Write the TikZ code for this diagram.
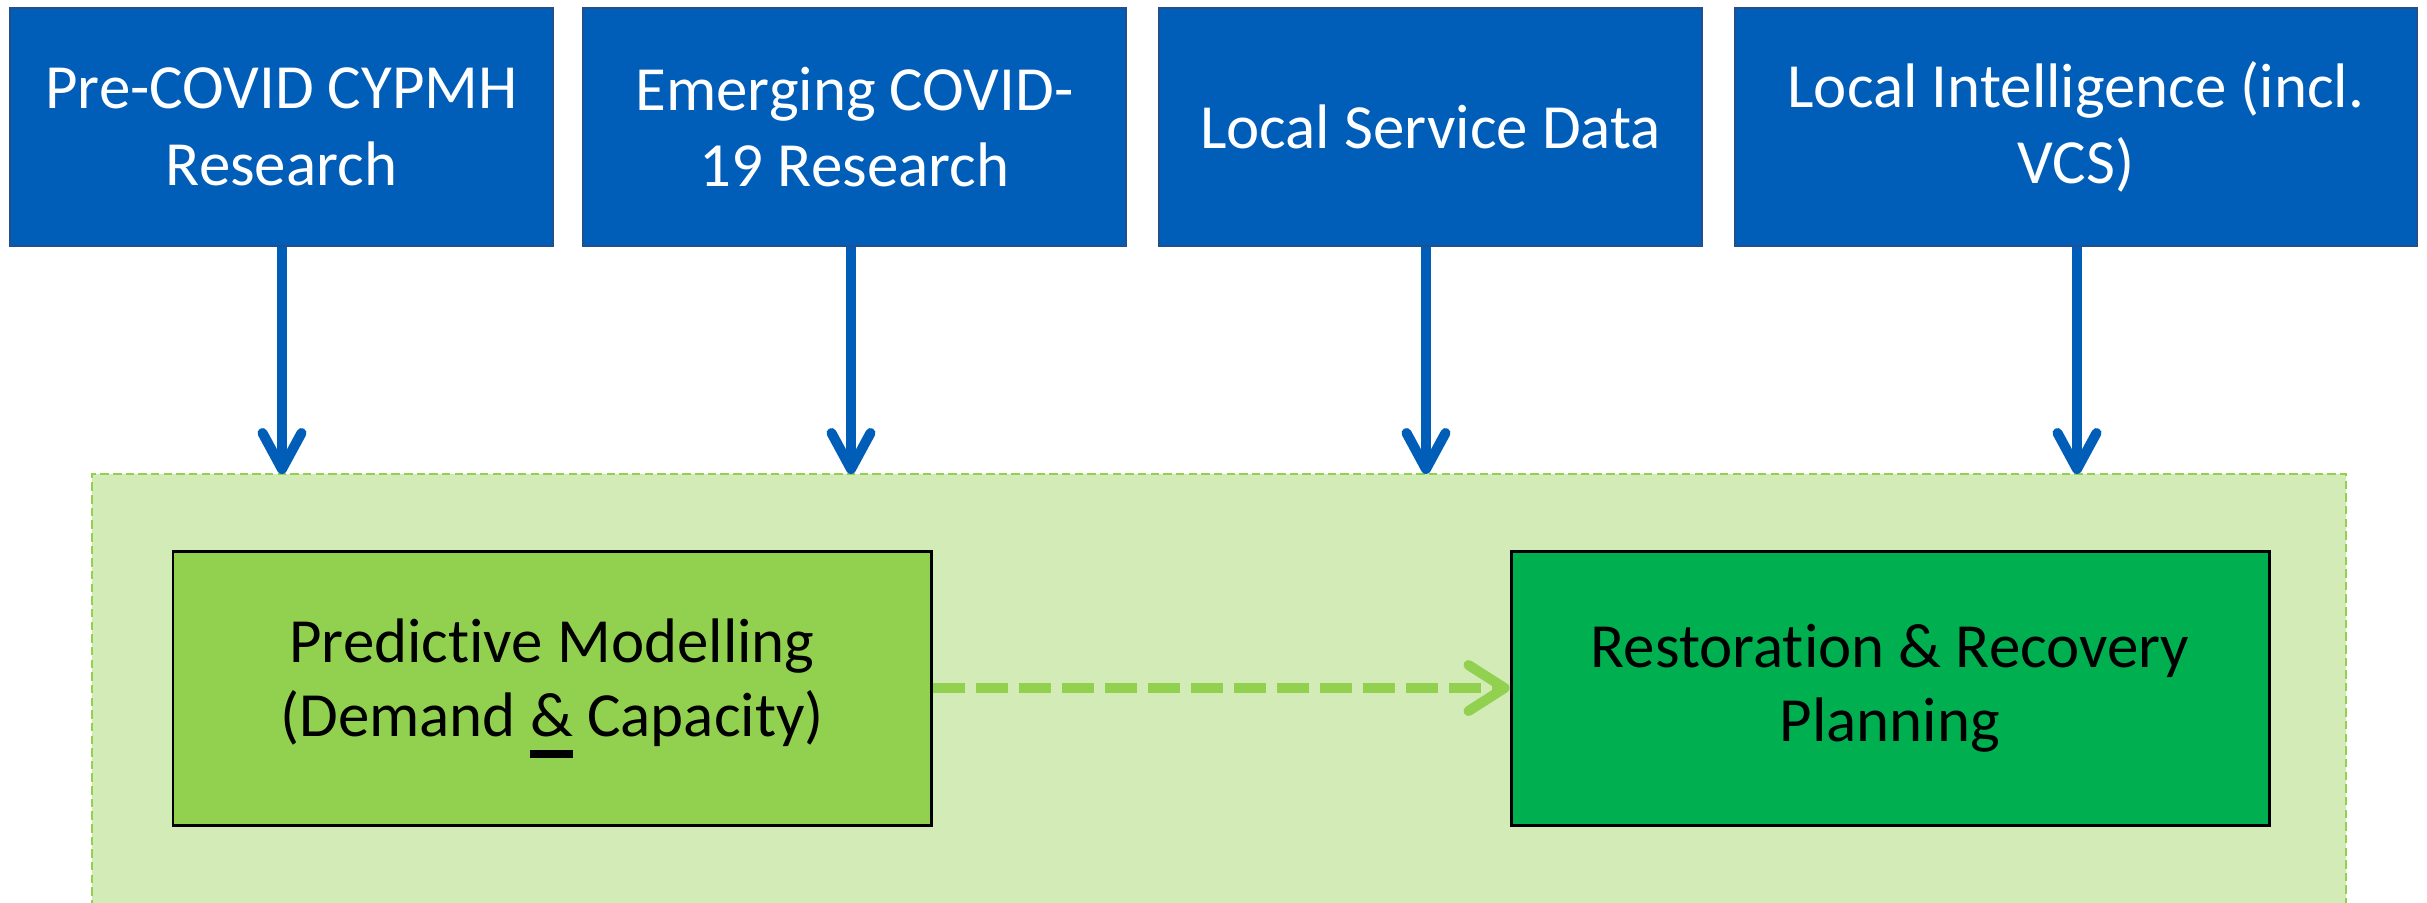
\documentclass[tikz,border=0pt]{standalone}
\usepackage{fontspec}
\setmainfont{Carlito}[Ligatures=NoCommon]
\usetikzlibrary{arrows.meta}
\definecolor{nhsblue}{HTML}{005EB8}
\definecolor{edgeblue}{HTML}{22508F}
\definecolor{paleg}{HTML}{D2EBB7}
\definecolor{limeg}{HTML}{92D050}
\definecolor{darkg}{HTML}{00B050}
\newcommand{\ulined}[1]{\setbox0=\hbox{#1}\rlap{\rule[-0.33em]{\wd0}{0.12em}}#1}
\begin{document}
\begin{tikzpicture}[
        srcbox/.style={draw=edgeblue, line width=0.6pt, fill=nhsblue, text=white, align=center,
        minimum height=2.38cm, inner sep=0pt, font=\fontsize{17.9}{21.8}\selectfont},
        stagebox/.style={draw=black, line width=0.85pt, align=center, minimum width=7.58cm,
        minimum height=2.74cm, inner sep=0pt, font=\fontsize{17.9}{21.2}\selectfont},
        feed/.style={line width=2.85pt, nhsblue, -{Straight Barb[length=3.6mm, width=3.9mm, round]}},
        link/.style={line width=2.85pt, limeg, dash pattern=on 3.2mm off 1.1mm,
        -{Straight Barb[length=3.6mm, width=4.6mm, round]}}
    ]
        \useasboundingbox (0,0) rectangle (24.27,-9.02);
        \node[draw=limeg, line width=0.6pt, dash pattern=on 2.4pt off 1.2pt, fill=paleg,
            minimum width=22.54cm, minimum height=4.56cm, inner sep=0pt] (hub) at (12.19,-7.02) {};
        \node[srcbox, minimum width=5.43cm] (pre) at (2.815,-1.27) {Pre-COVID CYPMH\\Research};
        \node[srcbox, minimum width=5.43cm] (emerg) at (8.545,-1.27) {Emerging COVID-\\19 Research};
        \node[srcbox, minimum width=5.43cm] (servdata) at (14.305,-1.27) {Local Service Data};
        \node[srcbox, minimum width=6.82cm] (intel) at (20.76,-1.27) {Local Intelligence (incl.\\VCS)};
        \node[stagebox, fill=limeg] (pred) at (5.52,-6.88) {Predictive Modelling\\(Demand \ulined{\&} Capacity)};
        \node[stagebox, fill=darkg] (rest) at (18.9,-6.88) {Restoration \& Recovery\\Planning};
        \draw[feed] (pre.south -| 2.82,0) -- (2.82,-4.74);
        \draw[feed] (emerg.south -| 8.51,0) -- (8.51,-4.74);
        \draw[feed] (servdata.south -| 14.26,0) -- (14.26,-4.74);
        \draw[feed] (intel.south -| 20.77,0) -- (20.77,-4.74);
        \draw[link] (pred) -- (rest);
    \end{tikzpicture}
\end{document}
